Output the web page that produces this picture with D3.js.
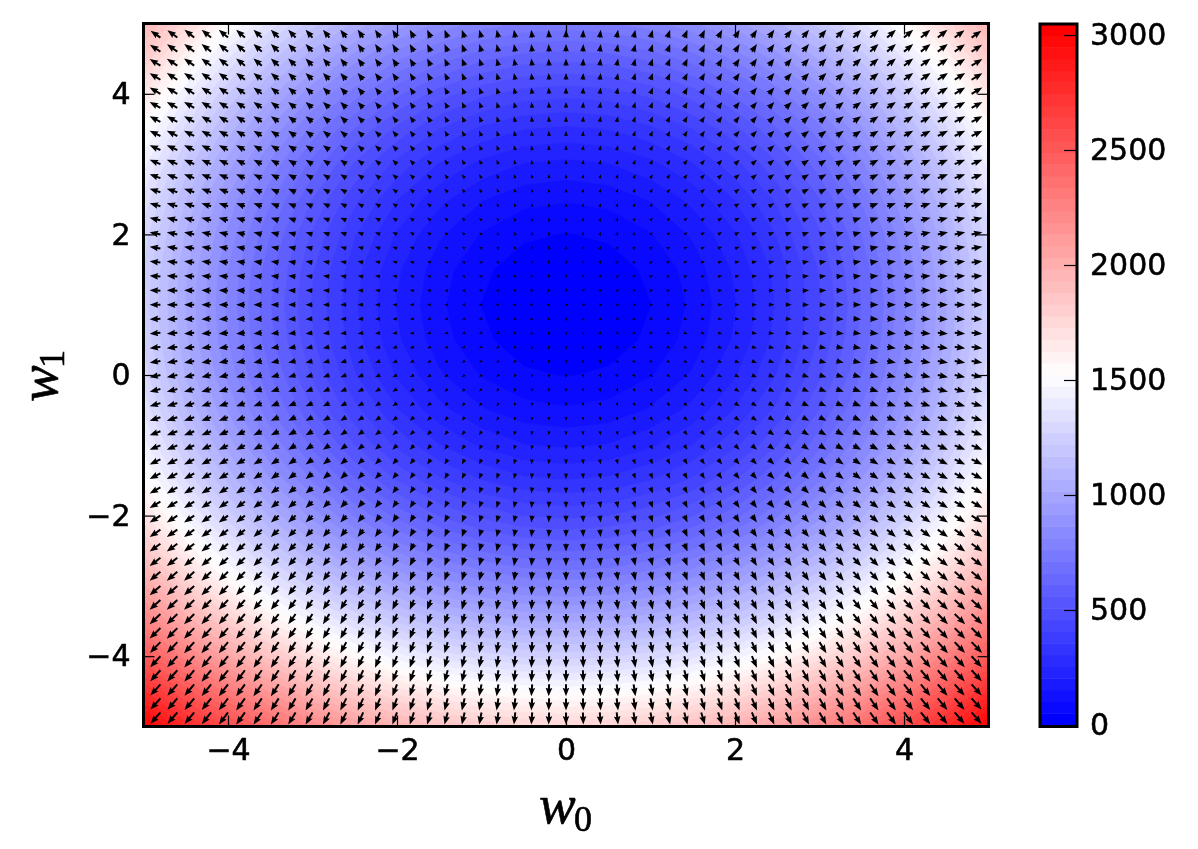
<!DOCTYPE html>
<html><head><meta charset="utf-8">
<script src="https://cdn.jsdelivr.net/npm/d3@7"></script>
<style>
html,body{margin:0;padding:0;background:#fff}
svg{display:block;filter:blur(0.6px)}
text{font-family:"DejaVu Sans";fill:#000}
.tick text{font-size:30px;stroke:#000;stroke-width:.55px}
.math{font-family:"Liberation Serif";stroke:#000;stroke-width:.6px}
</style></head><body>
<svg id="c" width="1198" height="849"></svg>
<script>
// Estimated loss read from the picture's colours; rows run w1 = 5 ... -5 (step 0.5),
// columns w0 = -5 ... 0 (step 0.5); the picture is mirror-symmetric about w0 = 0.
const w1Values=[5,4.5,4,3.5,3,2.5,2,1.5,1,0.5,0,-0.5,-1,-1.5,-2,-2.5,-3,-3.5,-4,-4.5,-5];
const w0Values=[-5,-4.5,-4,-3.5,-3,-2.5,-2,-1.5,-1,-0.5,0,0.5,1,1.5,2,2.5,3,3.5,4,4.5,5];
const lossHalf=[
[1950,1754,1542,1354,1192,1054,942,854,792,754,742],
[1821,1583,1371,1183,1021,883,771,683,621,583,571],
[1671,1433,1221,1033,871,733,621,533,471,433,421],
[1544,1306,1094,906,744,606,494,406,344,306,294],
[1439,1201,989,801,639,501,389,301,239,201,189],
[1357,1119,907,719,557,419,307,219,157,119,107],
[1298,1060,848,660,498,360,248,160,98,60,48],
[1262,1024,812,624,462,324,212,124,62,24,12],
[1250,1012,800,612,450,312,200,112,50,12,0],
[1262,1024,812,624,462,324,212,124,62,24,12],
[1298,1060,848,660,498,360,248,160,98,60,48],
[1359,1121,909,721,559,421,309,221,159,121,109],
[1445,1207,995,807,645,507,395,307,245,207,195],
[1556,1318,1106,918,756,618,506,418,356,318,306],
[1693,1455,1243,1055,893,755,643,555,493,455,443],
[1855,1617,1405,1217,1055,917,805,717,655,617,605],
[2044,1806,1594,1406,1244,1106,994,906,844,806,794],
[2258,2020,1808,1620,1458,1320,1208,1120,1058,1020,1008],
[2495,2257,2045,1857,1695,1557,1445,1357,1295,1257,1245],
[2755,2517,2305,2117,1955,1817,1705,1617,1555,1517,1505],
[3020,2782,2570,2382,2220,2082,1970,1882,1820,1782,1770]
];
const axisTicks=[-4,-2,0,2,4];
const barTicks=[0,500,1000,1500,2000,2500,3000];
const bandStep=50.8, bandCount=60;

const svg=d3.select("#c");
const L=143.5,R=988.5,T=23.5,B=726.5;
const x=d3.scaleLinear().domain([-5,5]).range([L,R]);
const y=d3.scaleLinear().domain([-5,5]).range([B,T]);
const bwr=d3.scaleLinear().domain([0,.5,1]).range(["#0000ff","#ffffff","#ff0000"]);
const bandColor=i=>bwr(i/(bandCount-1));
const levels=d3.range(bandCount).map(i=>i*bandStep);

// full matrix, row by row
const nx=w0Values.length, ny=w1Values.length;
const loss=lossHalf.map(r=>r.concat(r.slice(0,-1).reverse()));
const flat=loss.flat();

svg.append("defs").append("clipPath").attr("id","plot").append("rect")
  .attr("x",L).attr("y",T).attr("width",R-L).attr("height",B-T);
const plot=svg.append("g").attr("clip-path","url(#plot)");
plot.append("rect").attr("x",L).attr("y",T).attr("width",R-L).attr("height",B-T).attr("fill",bandColor(0));

// grid index -> data: grid point i sits at i+.5 in d3.contours coordinates
const gx=d3.scaleLinear().domain([.5,nx-.5]).range([x(-5),x(5)]);
const gy=d3.scaleLinear().domain([.5,ny-.5]).range([y(5),y(-5)]);
const geo=d3.geoPath(d3.geoTransform({point(a,b){this.stream.point(gx(a),gy(b));}}));
const contours=d3.contours().size([nx,ny]).thresholds(levels.slice(1))(flat);
plot.selectAll("path.band").data(contours).join("path").attr("class","band")
  .attr("d",geo).attr("fill",(d,i)=>bandColor(i+1)).attr("stroke",(d,i)=>bandColor(i+1)).attr("stroke-width",.5);

// gradient at the matrix nodes from the typed values
const gu=loss.map((r,j)=>r.map((v,i)=>{const a=Math.max(i-1,0),b=Math.min(i+1,nx-1);return (r[b]-r[a])/(w0Values[b]-w0Values[a]);}));
const gv=loss.map((r,j)=>r.map((v,i)=>{const a=Math.max(j-1,0),b=Math.min(j+1,ny-1);return (loss[b][i]-loss[a][i])/(w1Values[b]-w1Values[a]);}));
const ix=d3.scaleLinear().domain([-5,5]).range([0,nx-1]);
const iy=d3.scaleLinear().domain([5,-5]).range([0,ny-1]);
function sample(m,a,b){
  const fx=ix(a),fy=iy(b),i=Math.min(Math.floor(fx),nx-2),j=Math.min(Math.floor(fy),ny-2),s=fx-i,t=fy-j;
  return d3.interpolateNumber(d3.interpolateNumber(m[j][i],m[j][i+1])(s),d3.interpolateNumber(m[j+1][i],m[j+1][i+1])(s))(t);
}
const arrowAxis=d3.range(-24,25).map(d=>d/5);
const arrows=d3.cross(arrowAxis,arrowAxis,(a,b)=>({a,b,u:sample(gu,a,b),v:sample(gv,a,b)}));
const arrowLen=d3.scaleLinear().domain([0,650]).range([0,15]).clamp(true);
function arrowPath(d){
  const m=Math.hypot(d.u,d.v), l=Math.max(arrowLen(m),2.8);
  const k=Math.max(Math.min(1,l/8.5),.45), hl=8.5*k, hw=3.3*k, sw=1*k;
  return `M0,${-sw}L${l-hl*.9},${-sw}L${l-hl},${-hw}L${l},0L${l-hl},${hw}L${l-hl*.9},${sw}L0,${sw}Z`;
}
plot.selectAll("path.arrow").data(arrows).join("path").attr("class","arrow")
  .attr("d",arrowPath).attr("fill","#000")
  .attr("transform",d=>`translate(${x(d.a)},${y(d.b)}) rotate(${Math.atan2(-d.v,d.u)*180/Math.PI})`);

// axes with inward ticks on all four sides
function axis(g,a){g.call(a);g.select(".domain").remove();g.selectAll(".tick line").attr("stroke","#000").attr("stroke-width",1.2);return g;}
const fmt=d3.format("d");
axis(svg.append("g").attr("transform",`translate(0,${B})`),d3.axisBottom(x).tickValues(axisTicks).tickSize(-11).tickPadding(12).tickFormat(fmt));
axis(svg.append("g").attr("transform",`translate(0,${T})`),d3.axisTop(x).tickValues(axisTicks).tickSize(-11).tickFormat(""));
axis(svg.append("g").attr("transform",`translate(${L},0)`),d3.axisLeft(y).tickValues(axisTicks).tickSize(-11).tickPadding(13).tickFormat(fmt));
axis(svg.append("g").attr("transform",`translate(${R},0)`),d3.axisRight(y).tickValues(axisTicks).tickSize(-11).tickFormat(""));
svg.append("rect").attr("x",L).attr("y",T).attr("width",R-L).attr("height",B-T).attr("fill","none").attr("stroke","#000").attr("stroke-width",3);

// axis titles
svg.append("text").attr("class","math").attr("x",539).attr("y",823).attr("font-style","italic").attr("font-size",55).text("w");
svg.append("text").attr("class","math").attr("x",574).attr("y",831).attr("font-size",36).text("0");
svg.append("text").attr("class","math").attr("transform","translate(57,402) rotate(-90)").attr("font-style","italic").attr("font-size",55).text("w");
svg.append("text").attr("class","math").attr("transform","translate(64,368) rotate(-90)").attr("font-size",36).text("1");

// colour bar
const bx=1040,bw=37;
const cb=d3.scaleLinear().domain([0,3000]).range([725,35]);
svg.append("g").selectAll("rect").data(levels).join("rect")
  .attr("x",bx).attr("width",bw)
  .attr("y",d=>cb(d+bandStep)).attr("height",d=>cb(d)-cb(d+bandStep)+.5)
  .attr("fill",(d,i)=>bandColor(i));
svg.append("rect").attr("x",bx).attr("y",725).attr("width",bw).attr("height",2).attr("fill",bandColor(0));
const ba=axis(svg.append("g").attr("transform",`translate(${bx+bw},0)`),d3.axisRight(cb).tickValues(barTicks).tickSize(-13).tickPadding(13).tickFormat(fmt));
ba.selectAll(".tick text").attr("dy","0.3em");
svg.append("rect").attr("x",bx).attr("y",T+.5).attr("width",bw).attr("height",B-T-.5).attr("fill","none").attr("stroke","#000").attr("stroke-width",3);
</script>
</body></html>
